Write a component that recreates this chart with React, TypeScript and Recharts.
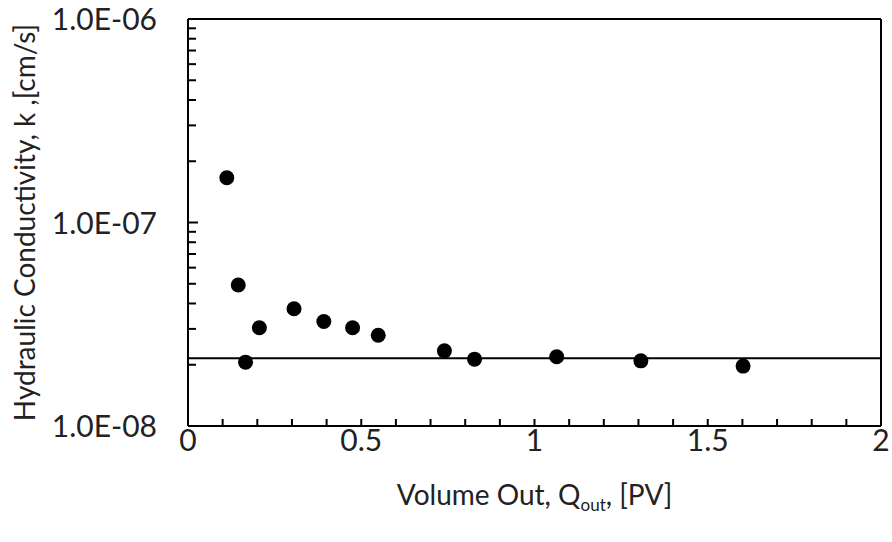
import {
  ReferenceLine,
  Scatter,
  ScatterChart,
  XAxis,
  YAxis,
} from "recharts";

const qOut = [
  0.112, 0.145, 0.166, 0.206, 0.306, 0.392, 0.475, 0.549, 0.74, 0.827, 1.064,
  1.307, 1.602,
];
const kValues = [
  1.66e-7, 4.93e-8, 2.06e-8, 3.04e-8, 3.77e-8, 3.26e-8, 3.04e-8, 2.79e-8,
  2.34e-8, 2.13e-8, 2.19e-8, 2.09e-8, 1.97e-8,
];
const kAverage = 2.15e-8;

const xTicks = [0, 0.5, 1, 1.5, 2];
const xMinorTicks = [
  0.1, 0.2, 0.3, 0.4, 0.6, 0.7, 0.8, 0.9, 1.1, 1.2, 1.3, 1.4, 1.6, 1.7, 1.8,
  1.9,
];
const yTicks = [1e-8, 1e-7, 1e-6];
const yMinorTicks = [
  2e-8, 3e-8, 4e-8, 5e-8, 6e-8, 7e-8, 8e-8, 9e-8, 2e-7, 3e-7, 4e-7, 5e-7,
  6e-7, 7e-7, 8e-7, 9e-7,
];

const data = qOut.map((q, i) => ({ q, k: kValues[i] }));
const allXTicks = [...xTicks, ...xMinorTicks].sort((a, b) => a - b);

const FONT = "Lato, Carlito, sans-serif";
const INK = "#000";
const TEXT = "#222";
const TICK_FS = 30;
const TITLE_FS = 28;
const X_DOMAIN = [0, 2];
const Y_DOMAIN = [1e-8, 1e-6];

function sciLabel(v: number) {
  const exp = Math.round(Math.log10(v));
  const mant = v / Math.pow(10, exp);
  const sign = exp < 0 ? "-" : "+";
  const abs = String(Math.abs(exp)).padStart(2, "0");
  return `${mant.toFixed(1)}E${sign}${abs}`;
}

function isMajorX(v: number) {
  return xTicks.some((t) => Math.abs(t - v) < 1e-9);
}

// x ticks point inward (negative tickSize), so the label sits below y
function XTick(props: any) {
  const { x, y, payload } = props;
  if (!isMajorX(payload.value)) return null;
  return (
    <text
      x={x}
      y={y + 32}
      textAnchor="middle"
      fontFamily={FONT}
      fontSize={TICK_FS}
      fill={TEXT}
    >
      {String(payload.value)}
    </text>
  );
}

function YTick(props: any) {
  const { x, y, payload } = props;
  return (
    <text
      x={x}
      y={y + 11}
      textAnchor="end"
      fontFamily={FONT}
      fontSize={TICK_FS}
      fill={TEXT}
    >
      {sciLabel(payload.value)}
    </text>
  );
}

function Dot(props: any) {
  const { cx, cy } = props;
  if (cx == null || cy == null) return null;
  return <circle cx={cx} cy={cy} r={7.5} fill={INK} />;
}

function XTitle(props: any) {
  const vb = props.viewBox;
  const cx = vb.x + vb.width / 2;
  return (
    <text
      x={cx}
      y={vb.y + 79}
      textAnchor="middle"
      fontFamily={FONT}
      fontSize={TITLE_FS}
      fill={TEXT}
    >
      Volume Out, Q
      <tspan fontSize={17} dy={6}>
        out
      </tspan>
      <tspan dy={-6}>, [PV]</tspan>
    </text>
  );
}

function YTitle(props: any) {
  const vb = props.viewBox;
  const cx = 24;
  const cy = vb.y + vb.height / 2;
  return (
    <text
      x={cx}
      y={cy}
      transform={`rotate(-90, ${cx}, ${cy})`}
      textAnchor="middle"
      dominantBaseline="central"
      fontFamily={FONT}
      fontSize={TITLE_FS}
      fill={TEXT}
    >
      Hydraulic Conductivity, k ,[cm/s]
    </text>
  );
}

const markLine = { stroke: INK, strokeWidth: 2 };

export default function App() {
  return (
    <div style={{ width: 892, height: 542, background: "#fff" }}>
      <style>{`body{margin:0}`}</style>
      <ScatterChart
        width={892}
        height={542}
        margin={{ top: 19, right: 11, bottom: 0, left: 0 }}
      >
        <XAxis
          xAxisId="main"
          dataKey="q"
          type="number"
          domain={X_DOMAIN}
          ticks={allXTicks}
          interval={0}
          height={116}
          tickSize={-7}
          tickMargin={0}
          tickLine={markLine}
          axisLine={{ stroke: INK, strokeWidth: 2 }}
          tick={<XTick />}
          label={<XTitle />}
        />
        <XAxis
          xAxisId="top"
          orientation="top"
          type="number"
          domain={X_DOMAIN}
          allowDataOverflow
          mirror
          height={1}
          tick={false}
          axisLine={{ stroke: INK, strokeWidth: 2 }}
        />
        <YAxis
          yAxisId="main"
          dataKey="k"
          type="number"
          scale="log"
          domain={Y_DOMAIN}
          allowDataOverflow
          ticks={yTicks}
          interval={0}
          width={188}
          tickLine={false}
          tickSize={0}
          tickMargin={31}
          axisLine={{ stroke: INK, strokeWidth: 2 }}
          tick={<YTick />}
          label={<YTitle />}
        />
        {/* inward y tick marks: thin mirrored axes with no labels */}
        <YAxis
          yAxisId="minor"
          type="number"
          scale="log"
          domain={Y_DOMAIN}
          allowDataOverflow
          ticks={yMinorTicks}
          interval={0}
          mirror
          width={1}
          axisLine={false}
          tickSize={7}
          tickLine={markLine}
          tickFormatter={() => ""}
        />
        <YAxis
          yAxisId="major"
          type="number"
          scale="log"
          domain={Y_DOMAIN}
          allowDataOverflow
          ticks={yTicks}
          interval={0}
          mirror
          width={1}
          axisLine={false}
          tickSize={10}
          tickLine={markLine}
          tickFormatter={() => ""}
        />
        <YAxis
          yAxisId="right"
          orientation="right"
          type="number"
          scale="log"
          domain={Y_DOMAIN}
          allowDataOverflow
          mirror
          width={1}
          tick={false}
          axisLine={{ stroke: INK, strokeWidth: 2 }}
        />
        <ReferenceLine
          xAxisId="main"
          yAxisId="main"
          y={kAverage}
          stroke={INK}
          strokeWidth={2}
        />
        <Scatter
          xAxisId="main"
          yAxisId="main"
          data={data}
          fill={INK}
          shape={<Dot />}
          isAnimationActive={false}
        />
      </ScatterChart>
    </div>
  );
}
